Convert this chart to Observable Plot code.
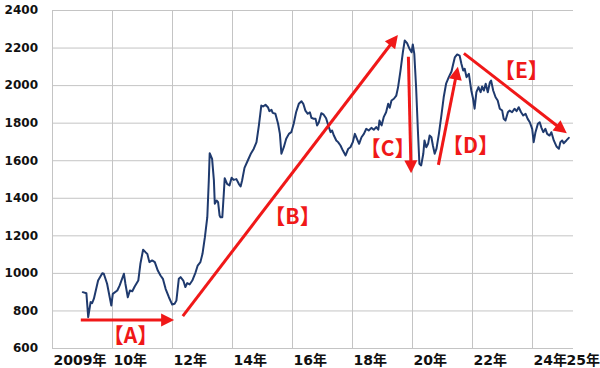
<!DOCTYPE html>
<html><head><meta charset="utf-8">
<script src="https://cdn.jsdelivr.net/npm/d3@7"></script>
<script src="https://cdn.jsdelivr.net/npm/@observablehq/plot@0.6"></script>
<style>body{margin:0;background:#fff}#chart svg{overflow:visible}</style>
</head><body><div id="chart"></div>
<script>
// price series (decimal year, value)
const years = [2009.01,2009.13,2009.19,2009.27,2009.32,2009.38,2009.52,2009.66,2009.71,2009.82,2009.96,
2010.01,2010.16,2010.24,2010.38,2010.43,2010.51,2010.58,2010.66,2010.74,2010.86,2010.93,
2011.02,2011.10,2011.16,2011.23,2011.32,2011.41,2011.51,2011.60,2011.68,2011.77,2011.88,2011.99,
2012.07,2012.13,2012.21,2012.27,2012.36,2012.43,2012.49,2012.57,2012.66,2012.77,2012.84,2012.93,
2013.00,2013.08,2013.16,2013.21,2013.24,2013.32,2013.38,2013.41,2013.47,2013.52,2013.57,2013.60,2013.66,2013.71,2013.74,2013.82,2013.90,2013.97,
2014.04,2014.13,2014.21,2014.27,2014.32,2014.40,2014.51,2014.62,2014.71,2014.80,2014.88,2014.96,
2015.02,2015.10,2015.18,2015.23,2015.30,2015.34,2015.43,2015.52,2015.58,2015.63,2015.71,2015.79,2015.88,2015.96,
2016.04,2016.12,2016.21,2016.30,2016.36,2016.43,2016.51,2016.58,2016.63,2016.71,2016.77,2016.82,2016.88,2016.96,
2017.04,2017.12,2017.21,2017.27,2017.32,2017.38,2017.46,2017.52,2017.60,2017.68,2017.77,2017.86,2017.93,
2018.01,2018.08,2018.16,2018.22,2018.30,2018.38,2018.46,2018.54,2018.63,2018.71,2018.79,2018.86,2018.90,2018.97,
2019.04,2019.12,2019.19,2019.24,2019.30,2019.38,2019.46,2019.52,2019.60,2019.68,2019.74,2019.82,2019.90,2019.97,
2020.01,2020.06,2020.12,2020.18,2020.23,2020.29,2020.36,2020.40,2020.46,2020.52,2020.57,2020.63,2020.68,2020.74,2020.80,2020.88,2020.97,
2021.04,2021.12,2021.21,2021.30,2021.35,2021.41,2021.49,2021.57,2021.63,2021.69,2021.74,2021.80,2021.88,2021.96,
2022.02,2022.07,2022.13,2022.20,2022.27,2022.32,2022.38,2022.44,2022.51,2022.58,2022.62,2022.69,2022.77,2022.84,2022.91,2022.99,
2023.04,2023.10,2023.18,2023.24,2023.32,2023.40,2023.47,2023.54,2023.62,2023.69,2023.77,2023.84,2023.91,2023.99,
2024.04,2024.10,2024.18,2024.24,2024.30,2024.36,2024.43,2024.49,2024.57,2024.63,2024.71,2024.80,2024.88,2024.93,2024.99,
2025.04,2025.13,2025.21];
const prices = [900,894,767,847,841,865,962,1001,998,945,829,
891,909,936,998,945,873,909,905,930,962,1051,
1126,1113,1104,1060,1069,1060,1015,989,971,918,873,834,
838,855,971,980,962,927,948,941,962,1006,1042,1060,
1104,1193,1299,1495,1640,1610,1495,1371,1388,1379,1308,1299,1299,1424,1507,1477,1468,1509,
1498,1502,1477,1463,1495,1562,1601,1640,1664,1699,1788,1894,
1889,1898,1885,1864,1871,1855,1850,1797,1743,1637,1672,1717,1743,1752,
1797,1858,1903,1917,1903,1867,1850,1858,1829,1823,1823,1788,1805,1853,
1845,1826,1779,1752,1761,1734,1708,1699,1681,1654,1628,1664,1672,
1699,1743,1712,1690,1725,1743,1770,1761,1775,1765,1779,1765,1814,1788,
1832,1858,1903,1882,1921,1930,1947,1992,2080,2178,2240,2226,2196,2178,
2219,2169,1992,1761,1584,1575,1637,1708,1672,1690,1734,1725,1681,1637,1664,1743,1850,
1938,2010,2045,2075,2110,2150,2166,2160,2116,2080,2090,2045,2063,1974,
1930,1877,1965,1992,1965,1995,1974,2010,1965,2018,2027,1974,1938,1921,1877,1867,
1823,1814,1858,1867,1858,1877,1864,1885,1858,1841,1850,1823,1805,1770,
1699,1752,1797,1805,1775,1752,1770,1743,1734,1752,1708,1676,1664,1699,1708,
1693,1708,1722];

// axes
const yTicks = [600,800,1000,1200,1400,1600,1800,2000,2200,2400];
const xGridYears = [2008,2010,2012,2014,2016,2018,2020,2022,2024];
const xLabelYears = [2008,2010,2012,2014,2016,2018,2020,2022,2024,2025.1];
const xLabels = ["2009年","10年","12年","14年","16年","18年","20年","22年","24年","25年"];

// annotation arrows and labels
const arrowNames = ["【A】","【B】","【C】","【D】","【E】"];
const arrowX1 = [2008.96,2012.36,2019.88,2020.88,2021.73];
const arrowY1 = [749,770,2151,1575,2169];
const arrowX2 = [2012.07,2019.53,2019.97,2021.53,2025.16];
const arrowY2 = [749,2267,1530,2098,1743];
const labelX = [2010.6,2016.0,2019.17,2021.93,2023.63];
const labelY = [664,1298,1660,1676,2075];

const series = years.map((y, i) => ({year: y, price: prices[i]}));
const xTickRows = xLabelYears.map((y, i) => ({year: y, label: xLabels[i]}));
const labelRows = arrowNames.map((n, i) => ({name: n, x: labelX[i], y: labelY[i]}));

const RED = "#f01818";
const redArrows = (index, scales) => {
  const ns = "http://www.w3.org/2000/svg";
  const g = document.createElementNS(ns, "g");
  for (let i = 0; i < arrowX1.length; i++) {
    const x1 = scales.x(arrowX1[i]), y1 = scales.y(arrowY1[i]);
    const x2 = scales.x(arrowX2[i]), y2 = scales.y(arrowY2[i]);
    const dx = x2 - x1, dy = y2 - y1, len = Math.hypot(dx, dy);
    const ux = dx / len, uy = dy / len;
    const hl = 13, hw = 6.5;
    const bx = x2 - ux * hl, by = y2 - uy * hl;
    const line = document.createElementNS(ns, "line");
    line.setAttribute("x1", x1); line.setAttribute("y1", y1);
    line.setAttribute("x2", bx + ux); line.setAttribute("y2", by + uy);
    line.setAttribute("stroke", RED); line.setAttribute("stroke-width", 3);
    g.appendChild(line);
    const poly = document.createElementNS(ns, "polygon");
    poly.setAttribute("points", `${x2},${y2} ${bx - uy*hw},${by + ux*hw} ${bx + uy*hw},${by - ux*hw}`);
    poly.setAttribute("fill", RED);
    g.appendChild(poly);
  }
  return g;
};

const chart = Plot.plot({
  width: 600,
  height: 368,
  marginLeft: 52,
  marginRight: 27,
  marginTop: 10,
  marginBottom: 20,
  style: {fontFamily: "'DejaVu Sans', 'Noto Sans CJK JP', sans-serif", background: "#fff", overflow: "visible"},
  x: {type: "linear", domain: [2008, 2025.367], axis: null},
  y: {domain: [600, 2400], axis: null},
  marks: [
    Plot.ruleY(yTicks, {stroke: "#c4c4c4", strokeWidth: 1}),
    Plot.ruleX(xGridYears, {stroke: "#c4c4c4", strokeWidth: 1}),
    Plot.text(yTicks, {y: d => d, text: d => String(d), frameAnchor: "left", textAnchor: "end", dx: -14.5,
      fontSize: 12, fontWeight: "bold", fill: "#111"}),
    Plot.text(xTickRows, {x: "year", text: "label", frameAnchor: "bottom", textAnchor: "start", lineAnchor: "middle",
      dx: 1, dy: 12, fontSize: 14, fontWeight: "bold", fill: "#111"}),
    Plot.line(series, {x: "year", y: "price", stroke: "#1f3a6e", strokeWidth: 2, strokeLinejoin: "round"}),
    redArrows,
    Plot.text(labelRows, {x: "x", y: "y", text: "name", fill: RED, fontSize: 21, fontWeight: "bold",
      fontFamily: "'Noto Sans CJK JP', sans-serif"})
  ]
});
document.getElementById("chart").appendChild(chart);
</script>
</body></html>
